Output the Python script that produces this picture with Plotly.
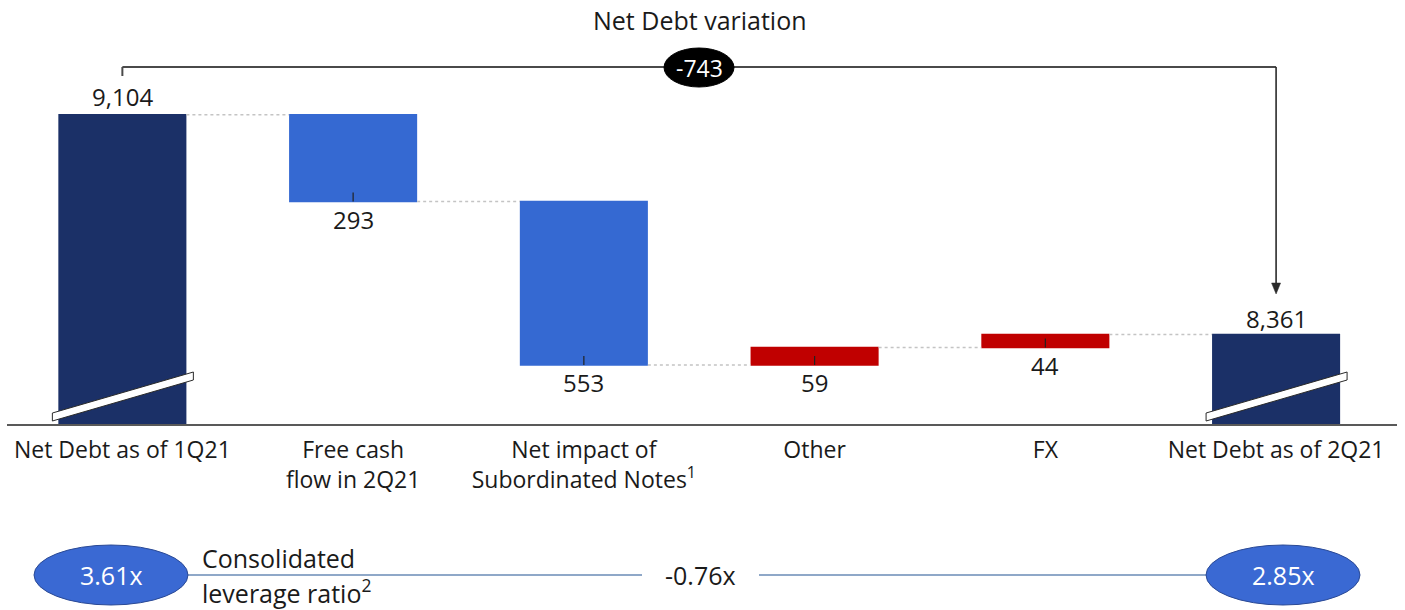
import plotly.graph_objects as go

# ---- data -------------------------------------------------------------
categories = [
    "Net Debt as of 1Q21",
    "Free cash<br>flow in 2Q21",
    "Net impact of<br>Subordinated Notes<sup>1</sup>",
    "Other",
    "FX",
    "Net Debt as of 2Q21",
]
opening_debt = 9104
changes = [-293, -553, 59, 44]          # FCF, Subordinated Notes, Other, FX
leverage_open = 3.61
leverage_close = 2.85

# ---- derived series ---------------------------------------------------
measures = ["absolute"] + ["relative"] * len(changes) + ["total"]
values = [opening_debt] + changes + [0]
closing_debt = opening_debt + sum(changes)
variation = closing_debt - opening_debt
leverage_change = round(leverage_close - leverage_open, 2)

# running levels (bottom of each change bar)
levels = [opening_debt]
for c in changes:
    levels.append(levels[-1] + c)
change_bottoms = [min(levels[i], levels[i + 1]) for i in range(len(changes))]

NAVY = "#1B3067"
BLUE = "#3569D2"
RED = "#C00000"
GREY = "#4A4A4A"
TEXT = "#1a1a1a"
FONT = "Open Sans"

W, H = 1405, 610
M_L, M_R, M_T, M_B = 7, 8, 20, 186
PW, PH = W - M_L - M_R, H - M_T - M_B
Y_MIN, Y_MAX = 8058, 9425


def px(x):
    return (x - M_L) / PW


def py(y):
    return (H - M_B - y) / PH


def note(x, y, text, size, color=TEXT, xanchor="center", **kw):
    """Free-floating text placed in paper coordinates (pixel inputs)."""
    return dict(x=px(x), y=py(y), xref="paper", yref="paper", text=text, showarrow=False,
                xanchor=xanchor, yanchor="middle",
                font=dict(family=FONT, size=size, color=color), **kw)


xs = list(range(len(categories)))
last = len(xs) - 1

fig = go.Figure(
    go.Waterfall(
        x=xs,
        y=values,
        measure=measures,
        totals=dict(marker=dict(color=NAVY)),
        decreasing=dict(marker=dict(color=BLUE)),
        increasing=dict(marker=dict(color=RED)),
        connector=dict(mode="between", line=dict(color="#C4C4C4", width=1.5, dash="dot")),
        textinfo="none",
        hoverinfo="skip",
        showlegend=False,
    )
)

shapes = []
annotations = []

# value labels
label_font = dict(family=FONT, size=24, color=TEXT)
annotations.append(dict(x=0, y=opening_debt, xref="x", yref="y", text=f"{opening_debt:,}",
                        showarrow=False, xanchor="center", yanchor="middle", yshift=18, font=label_font))
annotations.append(dict(x=last, y=closing_debt, xref="x", yref="y", text=f"{closing_debt:,}",
                        showarrow=False, xanchor="center", yanchor="middle", yshift=16, font=label_font))
for i, (c, b) in enumerate(zip(changes, change_bottoms), start=1):
    annotations.append(dict(x=i, y=b, xref="x", yref="y", text=f"{abs(c):,}",
                            showarrow=False, xanchor="center", yanchor="middle", yshift=-18,
                            font=label_font))
    # small tick at the bottom of each change bar
    shapes.append(dict(type="line", xref="x", yref="y", ysizemode="pixel", yanchor=b,
                       x0=i, x1=i, y0=0, y1=9, line=dict(color="#222222", width=1.2)))

# axis-break slashes on the two total bars
for i in (0, last):
    shapes.append(dict(type="path", xref="x", yref="y", xsizemode="pixel", ysizemode="pixel",
                       xanchor=i, yanchor=Y_MIN,
                       path="M -70 3 L 71 44 L 71 52 L -70 11 Z",
                       fillcolor="white", line=dict(color="#2a2a2a", width=1)))

# net debt variation bracket with arrow down to the closing bar
BR_Y, TIP_Y = 67, 294
bracket = dict(color=GREY, width=2)
shapes.append(dict(type="line", xref="x", yref="paper", x0=0, x1=0, y0=py(76), y1=py(BR_Y),
                   line=bracket))
shapes.append(dict(type="line", xref="x", yref="paper", x0=0, x1=last, y0=py(BR_Y), y1=py(BR_Y),
                   line=bracket))
shapes.append(dict(type="line", xref="x", yref="paper", x0=last, x1=last, y0=py(BR_Y), y1=py(TIP_Y - 8),
                   line=dict(color="#2a2a2a", width=1.6)))
shapes.append(dict(type="path", xref="x", yref="paper", xsizemode="pixel", ysizemode="pixel",
                   xanchor=last, yanchor=py(TIP_Y),
                   path="M -4.5 11 L 4.5 11 L 0 0 Z",
                   fillcolor="#2a2a2a", line=dict(color="#2a2a2a", width=0.5)))
shapes.append(dict(type="circle", xref="paper", yref="paper",
                   x0=px(664), x1=px(734), y0=py(87), y1=py(48),
                   fillcolor="black", line=dict(color="black", width=1)))
annotations.append(note(699, 67.5, f"{variation:,}", 23, color="white"))
annotations.append(note(700, 20, "Net Debt variation", 25))

# leverage ratio row
LEV_Y = 575
LINE_C = "#8FA8C8"
shapes.append(dict(type="line", xref="paper", yref="paper", x0=px(188), x1=px(642),
                   y0=py(LEV_Y), y1=py(LEV_Y), line=dict(color=LINE_C, width=2)))
shapes.append(dict(type="line", xref="paper", yref="paper", x0=px(759), x1=px(1207),
                   y0=py(LEV_Y), y1=py(LEV_Y), line=dict(color=LINE_C, width=2)))
for cx, val in ((111, leverage_open), (1283, leverage_close)):
    shapes.append(dict(type="circle", xref="paper", yref="paper",
                       x0=px(cx - 77), x1=px(cx + 77), y0=py(LEV_Y + 30), y1=py(LEV_Y - 30),
                       fillcolor="#3A69D3", line=dict(color="#2B4A95", width=1)))
    annotations.append(note(cx, LEV_Y, f"{val:.2f}x", 25, color="white"))
annotations.append(note(700, LEV_Y, f"{leverage_change:.2f}x", 25))
annotations.append(note(200, 558, "Consolidated", 25, xanchor="left"))
annotations.append(note(200, 591, "leverage ratio<sup>2</sup>", 25, xanchor="left"))

fig.update_layout(
    width=W, height=H,
    margin=dict(l=M_L, r=M_R, t=M_T, b=M_B, pad=0),
    paper_bgcolor="white", plot_bgcolor="white",
    waterfallgap=0.445,
    shapes=shapes,
    annotations=annotations,
    font=dict(family=FONT, color=TEXT),
    xaxis=dict(
        range=[-0.5, 5.524], tickmode="array", tickvals=xs, ticktext=categories,
        showline=True, linecolor="#595959", linewidth=2, showgrid=False, zeroline=False,
        ticks="", tickfont=dict(family=FONT, size=23, color=TEXT), ticklabelstandoff=4,
        fixedrange=True,
    ),
    yaxis=dict(range=[Y_MIN, Y_MAX], visible=False, showgrid=False, fixedrange=True),
)

fig.write_html("out.html")
